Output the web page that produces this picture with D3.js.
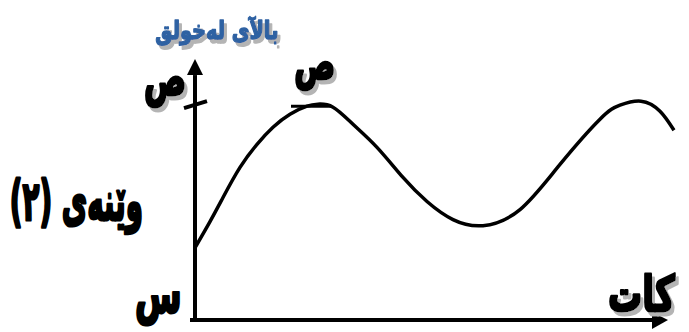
<!DOCTYPE html>
<html>
<head>
<meta charset="utf-8">
<script src="https://cdn.jsdelivr.net/npm/d3@7"></script>
<style>
  html, body { margin: 0; padding: 0; background: #fff; }
  svg { display: block; }
  .lbl { font-family: "DejaVu Sans", sans-serif; font-weight: bold; }
</style>
</head>
<body>
<svg width="689" height="332"></svg>
<script>
(function (d3) {
  'use strict';

  // time (t) and displacement (v)
  const timeValues = [0, 0.375, 0.7, 1.125, 1.55, 1.95, 2.375, 2.8, 3.075, 3.45, 3.95, 4.55,
    5.2, 5.8, 6.45, 7.2, 8.125, 9.125, 10.125, 10.625, 11.15, 11.625, 11.975];
  const dispValues = [1.8, 2.45, 3.05, 3.8, 4.375, 4.8, 5.125, 5.325, 5.375, 5.3, 4.875, 4.3,
    3.55, 2.95, 2.5, 2.35, 2.75, 3.875, 5.0, 5.35, 5.45, 5.2, 4.725];
  const peakValue = 5.375;
  const peakTime = 3.075;

  const axisTitleY = 'بالآی لەخولق';
  const axisTitleX = 'كات';
  const peakLabel = 'ص';
  const originLabel = 'س';
  const figureLabel = 'وێنەی (٢)';

  const FONT = '"DejaVu Sans", sans-serif';
  const svg = d3.select('svg');

  // drop shadow used by most labels
  const shadow = svg.append('defs').append('filter')
    .attr('id', 'shadow')
    .attr('x', '-20%').attr('y', '-20%')
    .attr('width', '140%').attr('height', '150%');
  shadow.append('feOffset').attr('in', 'SourceAlpha').attr('dx', 3).attr('dy', 4).attr('result', 'off');
  shadow.append('feFlood').attr('flood-color', '#b4b4b4');
  shadow.append('feComposite').attr('in2', 'off').attr('operator', 'in').attr('result', 'sh');
  const merge = shadow.append('feMerge');
  merge.append('feMergeNode').attr('in', 'sh');
  merge.append('feMergeNode').attr('in', 'SourceGraphic');

  const x = d3.scaleLinear().domain([0, 11.8]).range([195, 667]);
  const y = d3.scaleLinear().domain([0, 6.5]).range([320, 59]);

  const points = timeValues.map((t, i) => [t, dispValues[i]]);

  // measure ink bounds so each label can be stretched to its box
  const ctx = document.createElement('canvas').getContext('2d');
  ctx.font = `bold 100px ${FONT}`;
  ctx.textAlign = 'left';
  ctx.textBaseline = 'alphabetic';

  const label = (props) => {
    const { text, box, fill, withShadow, weight } = props;
    const m = ctx.measureText(text);
    const inkW = m.actualBoundingBoxLeft + m.actualBoundingBoxRight;
    const inkH = m.actualBoundingBoxAscent + m.actualBoundingBoxDescent;
    const sx = (box[2] - box[0]) / inkW;
    const sy = (box[3] - box[1]) / inkH;
    const outer = svg.append('g');
    if (withShadow) outer.attr('filter', 'url(#shadow)');
    outer.append('g')
      .attr('transform', `translate(${box[0] + m.actualBoundingBoxLeft * sx},${box[1] + m.actualBoundingBoxAscent * sy}) scale(${sx},${sy})`)
      .append('text')
      .attr('class', 'lbl')
      .attr('x', 0)
      .attr('y', 0)
      .attr('font-size', 100)
      .attr('fill', fill)
      .attr('stroke', fill)
      .attr('stroke-width', weight || 2.4)
      .attr('vector-effect', 'non-scaling-stroke')
      .attr('stroke-linejoin', 'round')
      .text(text);
  };

  // axes
  svg.append('line')
    .attr('x1', x(0)).attr('y1', y(0) + 2)
    .attr('x2', x(0)).attr('y2', y(6.1))
    .attr('stroke', '#000').attr('stroke-width', 4);
  svg.append('path')
    .attr('d', `M${x(0)},${y(6.5)} L${x(0) - 8},${y(6.5) + 16} L${x(0) + 8},${y(6.5) + 16} Z`)
    .attr('fill', '#000');

  svg.append('line')
    .attr('x1', x(-0.125)).attr('y1', y(0))
    .attr('x2', x(11.45)).attr('y2', y(0))
    .attr('stroke', '#000').attr('stroke-width', 4);
  svg.append('path')
    .attr('d', `M${x(11.8) + 1},${y(0)} L${x(11.8) - 15},${y(0) - 8} L${x(11.8) - 15},${y(0) + 9} Z`)
    .attr('fill', '#000');

  // tick on y axis at peak value
  svg.append('line')
    .attr('x1', x(0) - 11).attr('y1', y(peakValue) + 4)
    .attr('x2', x(0) + 12).attr('y2', y(peakValue) - 3)
    .attr('stroke', '#000').attr('stroke-width', 4);

  // curve
  const line = d3.line()
    .x(d => x(d[0]))
    .y(d => y(d[1]))
    .curve(d3.curveNatural);

  svg.append('path')
    .datum(points)
    .attr('d', line)
    .attr('fill', 'none')
    .attr('stroke', '#000')
    .attr('stroke-width', 3.5);

  // peak marker line
  svg.append('line')
    .attr('x1', x(peakTime) - 27).attr('y1', y(peakValue) + 2)
    .attr('x2', x(peakTime) + 13).attr('y2', y(peakValue) + 2)
    .attr('stroke', '#000').attr('stroke-width', 3);

  // labels: box = [left, top, right, bottom] of the ink
  label({ text: axisTitleY, box: [156, 16, 277, 45], fill: '#2f62a3', withShadow: true, weight: 1.3 });
  label({ text: peakLabel, box: [146, 77, 184, 107], fill: '#000', withShadow: true });
  label({ text: peakLabel, box: [296, 62, 333, 90], fill: '#000', withShadow: true });
  label({ text: figureLabel, box: [12, 179, 141, 234], fill: '#000' });
  label({ text: originLabel, box: [137, 293, 179, 326], fill: '#000' });
  label({ text: axisTitleX, box: [610, 273, 675, 311], fill: '#000', withShadow: true });

}(d3));
</script>
</body>
</html>
